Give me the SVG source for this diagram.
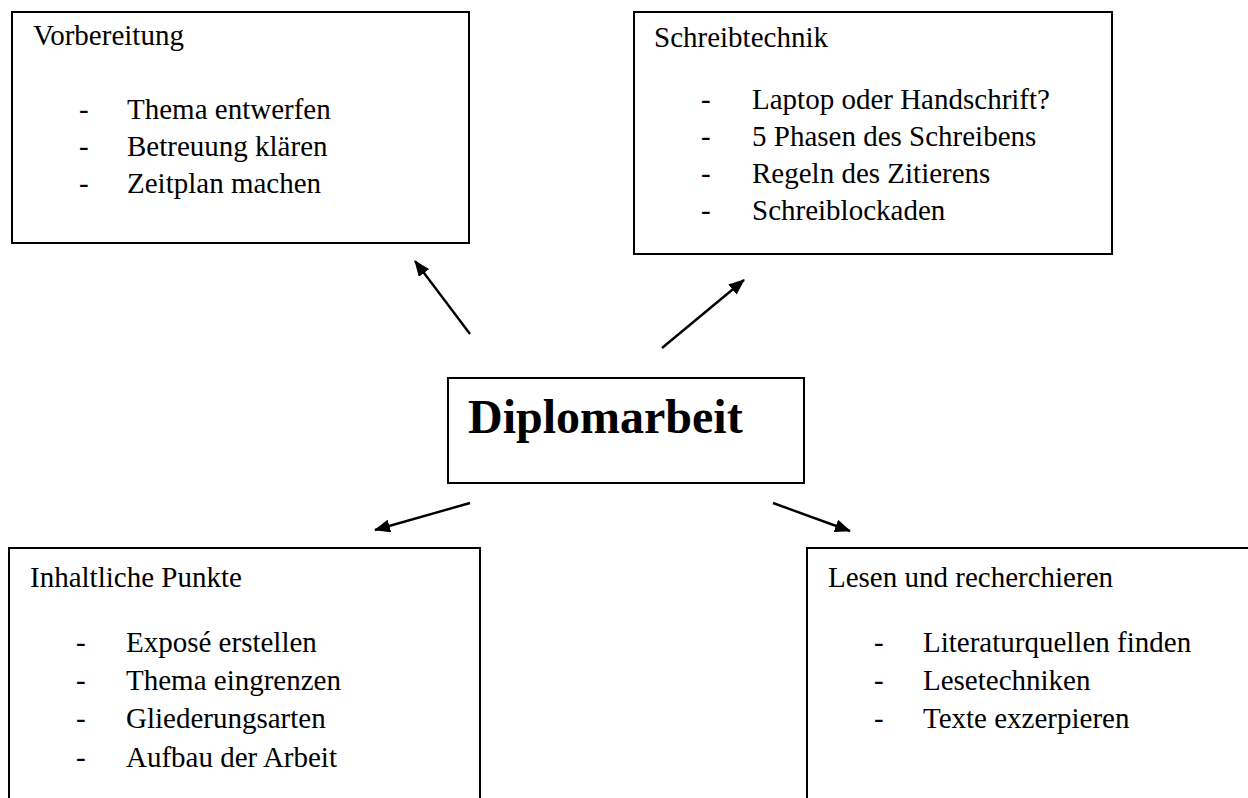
<svg xmlns="http://www.w3.org/2000/svg" width="1248" height="798" viewBox="0 0 1248 798">
<style>
.box{fill:#fff;stroke:#000;stroke-width:2}
.t{font-family:"Liberation Serif","Times New Roman",serif;font-size:29px;fill:#000}
.title{font-family:"Liberation Serif","Times New Roman",serif;font-size:48px;font-weight:bold;fill:#000}
.arr{stroke:#000;stroke-width:2.4;fill:none;marker-end:url(#ah)}
</style>
<defs>
<marker id="ah" viewBox="0 0 16 13" refX="15" refY="6.5" markerWidth="16" markerHeight="13" markerUnits="userSpaceOnUse" orient="auto">
<path d="M0,0 L16,6.5 L0,13 Z" fill="#000"/>
</marker>
</defs>
<rect width="1248" height="798" fill="#fff"/>
<g id="vorbereitung">
<rect class="box" x="12" y="12" width="457" height="231"/>
<text class="t" x="33" y="45">Vorbereitung</text>
<text class="t" x="79" y="119">-</text><text class="t" x="127" y="119">Thema entwerfen</text>
<text class="t" x="79" y="156">-</text><text class="t" x="127" y="156">Betreuung klären</text>
<text class="t" x="79" y="193">-</text><text class="t" x="127" y="193">Zeitplan machen</text>
</g>
<g id="schreibtechnik">
<rect class="box" x="634" y="12" width="478" height="242"/>
<text class="t" x="654" y="47">Schreibtechnik</text>
<text class="t" x="701" y="109">-</text><text class="t" x="752" y="109">Laptop oder Handschrift?</text>
<text class="t" x="701" y="146">-</text><text class="t" x="752" y="146">5 Phasen des Schreibens</text>
<text class="t" x="701" y="183">-</text><text class="t" x="752" y="183">Regeln des Zitierens</text>
<text class="t" x="701" y="220">-</text><text class="t" x="752" y="220">Schreiblockaden</text>
</g>
<g id="diplomarbeit">
<rect class="box" x="448" y="378" width="356" height="105"/>
<text class="title" x="468" y="433">Diplomarbeit</text>
</g>
<g id="inhaltliche">
<rect class="box" x="9" y="548" width="471" height="270"/>
<text class="t" x="30" y="587">Inhaltliche Punkte</text>
<text class="t" x="76" y="652">-</text><text class="t" x="126" y="652">Exposé erstellen</text>
<text class="t" x="76" y="690">-</text><text class="t" x="126" y="690">Thema eingrenzen</text>
<text class="t" x="76" y="728">-</text><text class="t" x="126" y="728">Gliederungsarten</text>
<text class="t" x="76" y="767">-</text><text class="t" x="126" y="767">Aufbau der Arbeit</text>
</g>
<g id="lesen">
<rect class="box" x="807" y="548" width="460" height="270"/>
<text class="t" x="828" y="587">Lesen und recherchieren</text>
<text class="t" x="874" y="652">-</text><text class="t" x="923" y="652">Literaturquellen finden</text>
<text class="t" x="874" y="690">-</text><text class="t" x="923" y="690">Lesetechniken</text>
<text class="t" x="874" y="728">-</text><text class="t" x="923" y="728">Texte exzerpieren</text>
</g>
<g id="connectors">
<line class="arr" x1="470" y1="334" x2="415" y2="261"/>
<line class="arr" x1="662" y1="348" x2="744" y2="280"/>
<line class="arr" x1="470" y1="503" x2="375" y2="530"/>
<line class="arr" x1="773" y1="503" x2="850" y2="531"/>
</g>
</svg>
